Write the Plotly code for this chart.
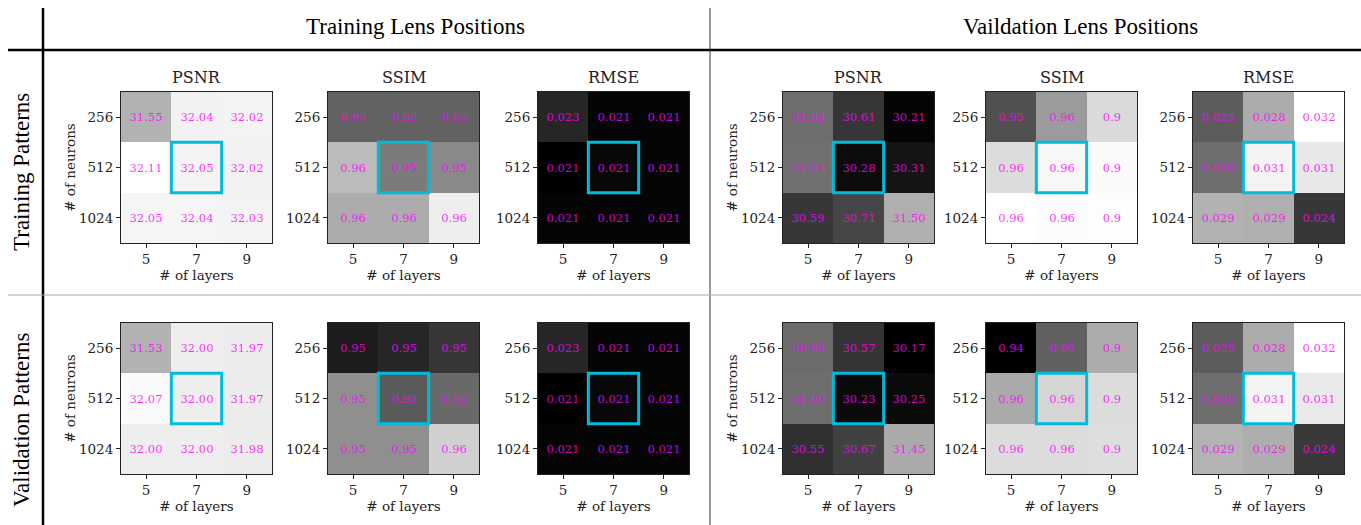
import plotly.graph_objects as go

W, H = 1361, 525

layers = ["5", "7", "9"]
neurons = ["256", "512", "1024"]
metrics = ["PSNR", "SSIM", "RMSE"]
col_headers = ["Training Lens Positions", "Vaildation Lens Positions"]
row_headers = ["Training Patterns", "Validation Patterns"]

best_row, best_col = 1, 1  # highlighted configuration (512 neurons, 7 layers)

# ---- displayed values (rows: 256, 512, 1024; cols: 5, 7, 9 layers) ----
tt_psnr = [["31.55", "32.04", "32.02"], ["32.11", "32.05", "32.02"], ["32.05", "32.04", "32.03"]]
tt_ssim = [["0.95", "0.95", "0.95"], ["0.96", "0.95", "0.95"], ["0.96", "0.96", "0.96"]]
tt_rmse = [["0.023", "0.021", "0.021"], ["0.021", "0.021", "0.021"], ["0.021", "0.021", "0.021"]]
tv_psnr = [["31.02", "30.61", "30.21"], ["31.04", "30.28", "30.31"], ["30.59", "30.71", "31.50"]]
tv_ssim = [["0.95", "0.96", "0.9"], ["0.96", "0.96", "0.9"], ["0.96", "0.96", "0.9"]]
tv_rmse = [["0.025", "0.028", "0.032"], ["0.026", "0.031", "0.031"], ["0.029", "0.029", "0.024"]]
vt_psnr = [["31.53", "32.00", "31.97"], ["32.07", "32.00", "31.97"], ["32.00", "32.00", "31.98"]]
vt_ssim = [["0.95", "0.95", "0.95"], ["0.95", "0.95", "0.95"], ["0.95", "0.95", "0.96"]]
vt_rmse = [["0.023", "0.021", "0.021"], ["0.021", "0.021", "0.021"], ["0.021", "0.021", "0.021"]]
vv_psnr = [["30.98", "30.57", "30.17"], ["31.00", "30.23", "30.25"], ["30.55", "30.67", "31.45"]]
vv_ssim = [["0.94", "0.95", "0.9"], ["0.96", "0.96", "0.9"], ["0.96", "0.96", "0.9"]]
vv_rmse = [["0.025", "0.028", "0.032"], ["0.026", "0.031", "0.031"], ["0.029", "0.029", "0.024"]]

# ---- cell grey levels (0 = black, 255 = white) ----
tt_psnr_shade = [[178, 242, 243], [255, 244, 242], [245, 245, 243]]
tt_ssim_shade = [[98, 98, 98], [187, 123, 137], [172, 172, 238]]
tt_rmse_shade = [[38, 5, 5], [0, 8, 5], [5, 5, 5]]
tv_psnr_shade = [[110, 54, 5], [112, 12, 20], [55, 70, 175]]
tv_ssim_shade = [[80, 155, 218], [220, 247, 250], [255, 252, 253]]
tv_rmse_shade = [[92, 172, 255], [110, 243, 232], [178, 175, 55]]
vt_psnr_shade = [[178, 238, 236], [250, 238, 236], [238, 238, 236]]
vt_ssim_shade = [[28, 38, 55], [143, 90, 105], [143, 143, 208]]
vt_rmse_shade = [[38, 5, 5], [0, 8, 5], [5, 5, 5]]
vv_psnr_shade = [[108, 52, 0], [110, 10, 10], [48, 65, 170]]
vv_ssim_shade = [[0, 97, 172], [170, 213, 220], [220, 220, 222]]
vv_rmse_shade = [[92, 172, 255], [110, 244, 233], [179, 173, 57]]

grid = [
    [(tt_psnr, tt_psnr_shade), (tt_ssim, tt_ssim_shade), (tt_rmse, tt_rmse_shade),
     (tv_psnr, tv_psnr_shade), (tv_ssim, tv_ssim_shade), (tv_rmse, tv_rmse_shade)],
    [(vt_psnr, vt_psnr_shade), (vt_ssim, vt_ssim_shade), (vt_rmse, vt_rmse_shade),
     (vv_psnr, vv_psnr_shade), (vv_ssim, vv_ssim_shade), (vv_rmse, vv_rmse_shade)],
]

# ---- layout geometry (pixels) ----
panel_left = [121, 328, 538, 783, 986, 1193]
panel_top = [92, 323]
PS = 151

SERIF = "DejaVu Serif"
TIMES = "Liberation Serif"
TXT = "#222222"

fig = go.Figure()
layout = dict(
    width=W, height=H, autosize=False,
    margin=dict(l=0, r=0, t=0, b=0, pad=0),
    paper_bgcolor="white", plot_bgcolor="white",
    showlegend=False,
    shapes=[], annotations=[],
)

n = 0
for r in range(2):
    for c in range(6):
        n += 1
        labels, shade = grid[r][c]
        xa = "x" if n == 1 else f"x{n}"
        ya = "y" if n == 1 else f"y{n}"
        fig.add_trace(go.Heatmap(
            z=shade, x=[0, 1, 2], y=[0, 1, 2], text=labels,
            texttemplate="%{text}",
            textfont=dict(family=SERIF, size=11.5, color="rgba(255,0,255,0.82)"),
            colorscale=[[0, "black"], [1, "white"]], zmin=0, zmax=255,
            showscale=False, hoverinfo="skip", xaxis=xa, yaxis=ya,
        ))
        l = panel_left[c]
        t = panel_top[r]
        xkey = "xaxis" if n == 1 else f"xaxis{n}"
        ykey = "yaxis" if n == 1 else f"yaxis{n}"
        layout[xkey] = dict(
            domain=[l / W, (l + PS) / W], anchor=ya, range=[-0.5, 2.5],
            tickvals=[0, 1, 2], ticktext=layers, ticks="outside", ticklen=4,
            tickcolor=TXT, showline=True, mirror=True, linecolor=TXT, linewidth=1,
            showgrid=False, zeroline=False,
            tickfont=dict(family=SERIF, size=13.5, color=TXT),
            title=dict(text="# of layers", font=dict(family=SERIF, size=13.5, color=TXT), standoff=2),
        )
        ydict = dict(
            domain=[1 - (t + PS) / H, 1 - t / H], anchor=xa, range=[2.5, -0.5],
            tickvals=[0, 1, 2], ticktext=neurons, ticks="outside", ticklen=4,
            tickcolor=TXT, showline=True, mirror=True, linecolor=TXT, linewidth=1,
            showgrid=False, zeroline=False,
            tickfont=dict(family=SERIF, size=13.5, color=TXT),
        )
        if c in (0, 3):
            ydict["title"] = dict(text="# of neurons", font=dict(family=SERIF, size=13.5, color=TXT), standoff=0)
        layout[ykey] = ydict
        layout["shapes"].append(dict(
            type="rect", xref=xa, yref=ya,
            x0=best_col - 0.5, x1=best_col + 0.5, y0=best_row - 0.5, y1=best_row + 0.5,
            line=dict(color="#00bcdc", width=3), layer="above",
        ))
        if r == 0:
            layout["annotations"].append(dict(
                text=metrics[c % 3], xref="paper", yref="paper",
                x=(l + PS / 2) / W, y=1 - 77 / H, xanchor="center", yanchor="middle",
                showarrow=False, font=dict(family=SERIF, size=16, color=TXT),
            ))

# ---- table dividers ----
def pline(x0, y0, x1, y1, color, width):
    return dict(type="line", xref="paper", yref="paper",
                x0=x0 / W, x1=x1 / W, y0=1 - y0 / H, y1=1 - y1 / H,
                line=dict(color=color, width=width), layer="above")

layout["shapes"] += [
    pline(43, 8, 43, 525, "black", 2.5),
    pline(8, 50, 1361, 50, "black", 2.5),
    pline(710, 8, 710, 525, "#333333", 1),
    pline(8, 295, 1361, 295, "#aaaaaa", 1),
]

# ---- headers ----
for text, cx in zip(col_headers, [415, 1080]):
    layout["annotations"].append(dict(
        text=text, xref="paper", yref="paper", x=cx / W, y=1 - 27 / H,
        xanchor="center", yanchor="middle", showarrow=False,
        font=dict(family=TIMES, size=23, color="black"),
    ))
for text, cy in zip(row_headers, [172, 420]):
    layout["annotations"].append(dict(
        text=text, xref="paper", yref="paper", x=21 / W, y=1 - cy / H,
        xanchor="center", yanchor="middle", showarrow=False, textangle=-90,
        font=dict(family=TIMES, size=23, color="black"),
    ))

fig.update_layout(**layout)
fig.write_html(
    "out.html",
    config={"displayModeBar": False},
    post_script="document.body.style.margin='0px';document.body.style.overflow='hidden';",
)
